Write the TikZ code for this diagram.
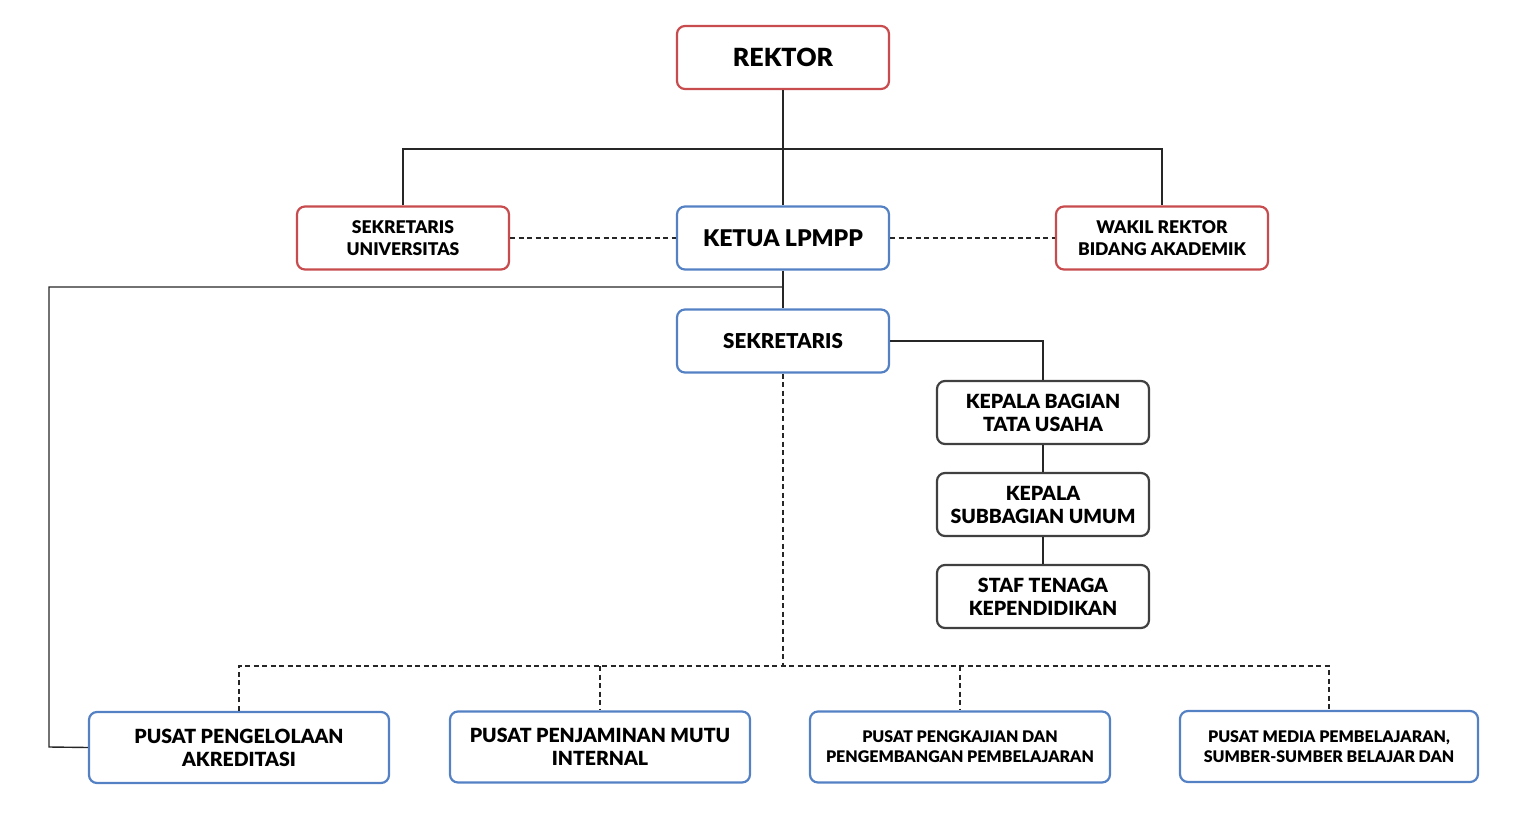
\documentclass[tikz,border=0pt]{standalone}
\usepackage{fontspec}
\setmainfont{Lato}[BoldFont={Lato Black}]
\begin{document}
\begin{tikzpicture}[x=1pt,y=-1pt,
  box/.style={draw, line width=2.2pt, rounded corners=8pt, minimum width=212pt, minimum height=63pt, align=center, font=\bfseries\fontsize{17.5}{21.5}\selectfont, inner sep=2pt},
  redbox/.style={box, draw=boxred},
  bluebox/.style={box, draw=boxblue},
  graybox/.style={box, draw=boxgray},
  wide/.style={bluebox, minimum width=300pt, minimum height=71pt},
  conn/.style={line width=1.4pt, draw=black!85},
  dconn/.style={conn, dashed, dash pattern=on 5pt off 3.5pt}]
\definecolor{boxred}{RGB}{200,75,78}
\definecolor{boxblue}{RGB}{84,128,196}
\definecolor{boxgray}{RGB}{64,64,64}
\useasboundingbox (0,0) rectangle (1536,821);
\node[redbox, font=\bfseries\fontsize{25}{28}\selectfont] (rektor) at (783,57.5) {REKTOR};
\node[redbox] (sekuniv) at (403,238) {SEKRETARIS\\UNIVERSITAS};
\node[bluebox, font=\bfseries\fontsize{23}{26}\selectfont] (ketua) at (783,238) {KETUA LPMPP};
\node[redbox] (wakil) at (1162,238) {WAKIL REKTOR\\BIDANG AKADEMIK};
\node[bluebox, font=\bfseries\fontsize{20.5}{24}\selectfont] (sek) at (783,341) {SEKRETARIS};
\node[graybox, font=\bfseries\fontsize{19.5}{23}\selectfont] (kbag) at (1043,412.5) {KEPALA BAGIAN\\TATA USAHA};
\node[graybox, font=\bfseries\fontsize{19.5}{23}\selectfont] (ksub) at (1043,504.5) {KEPALA\\SUBBAGIAN UMUM};
\node[graybox, font=\bfseries\fontsize{19.5}{23}\selectfont] (staf) at (1043,596.5) {STAF TENAGA\\KEPENDIDIKAN};
\node[wide, font=\bfseries\fontsize{19.5}{23}\selectfont] (p1) at (239,747.5) {PUSAT PENGELOLAAN\\AKREDITASI};
\node[wide, font=\bfseries\fontsize{19.5}{23}\selectfont] (p2) at (600,747) {PUSAT PENJAMINAN MUTU\\INTERNAL};
\node[wide, font=\bfseries\fontsize{16}{20}\selectfont] (p3) at (960,747) {PUSAT PENGKAJIAN DAN\\PENGEMBANGAN PEMBELAJARAN};
\node[wide, minimum width=298pt, font=\bfseries\fontsize{16}{20}\selectfont] (p4) at (1329,746.5) {PUSAT MEDIA PEMBELAJARAN,\\SUMBER-SUMBER BELAJAR DAN};
\coordinate (top) at (783,149);
\coordinate (mid) at (783,287);
\coordinate (dl) at (783,666);
% solid connectors
\draw[conn] (rektor.south) -- (ketua.north);
\draw[conn] (sekuniv.north) |- (top) -| (wakil.north);
\draw[conn] (ketua.south) -- (sek.north);
\draw[conn] (mid) -| (49,747) -- (p1.west);
\draw[conn] (sek.east) -| (kbag.north);
\draw[conn] (kbag.south) -- (ksub.north);
\draw[conn] (ksub.south) -- (staf.north);
% dashed connectors
\draw[dconn] (sekuniv.east) -- (ketua.west);
\draw[dconn] (ketua.east) -- (wakil.west);
\draw[dconn] (sek.south) -- (dl);
\draw[dconn] (p1.north) |- (dl) -| (p4.north);
\draw[dconn] (p2.north |- dl) -- (p2.north);
\draw[dconn] (p3.north |- dl) -- (p3.north);
\end{tikzpicture}
\end{document}
